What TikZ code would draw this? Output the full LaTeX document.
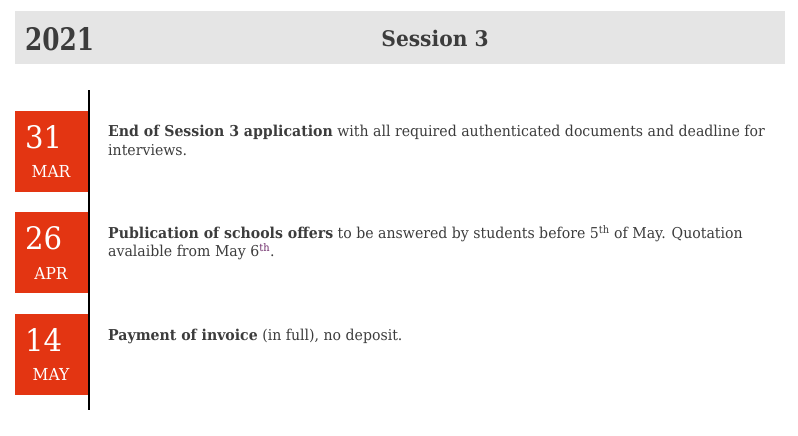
\documentclass[tikz,border=0pt]{standalone}
\usepackage{fontspec}
\setmainfont{DejaVu Serif}[FakeStretch=0.94]
\newfontfamily\yearfont{DejaVu Serif}[FakeStretch=0.8]
\usetikzlibrary{positioning}
\definecolor{barbg}{HTML}{E5E5E5}
\definecolor{datered}{HTML}{E33512}
\definecolor{txt}{HTML}{3C3C3C}
\definecolor{supcol}{HTML}{6E2C6A}
\tikzset{
  datebox/.style={rectangle, fill=datered, draw=none, minimum width=73pt, minimum height=81pt, anchor=north west, inner sep=0pt},
  daynum/.style={text=white, anchor=base west, inner sep=0pt, font=\fontsize{31}{31}\selectfont},
  monthtxt/.style={text=white, anchor=base, inner sep=0pt, font=\fontsize{16.5}{16.5}\selectfont},
  desc/.style={text=txt, anchor=base west, inner sep=0pt, align=left, font=\fontsize{15}{18.4}\selectfont},
  tline/.style={draw=black, line width=2pt},
}
\begin{document}
\begin{tikzpicture}[x=1pt,y=-1pt]
\useasboundingbox (0,0) rectangle (798,436);
% header bar
\node[rectangle, fill=barbg, minimum width=770pt, minimum height=53pt, anchor=north west, inner sep=0pt] (bar) at (15,11) {};
\node[text=txt, anchor=base west, inner sep=0pt, font=\yearfont\bfseries\fontsize{31}{31}\selectfont] (year) at (25,50.5) {2021};
\node[text=txt, anchor=base, inner sep=0pt, font=\bfseries\fontsize{21.5}{21.5}\selectfont] (sess) at (435,46.8) {Session 3};
% timeline
\coordinate (ttop) at (89,90);
\coordinate (tbot) at (89,410);
\draw[tline] (ttop) -- (tbot);
% item 1
\node[datebox] (b1) at (15,110.5) {};
\node[daynum] (n1) at (25,148) {31};
\node[monthtxt] (m1) at (51,177.5) {MAR};
\node[desc] (t1) at (108,155.2) {\textbf{End of Session 3 application} with all required authenticated documents and deadline for\\interviews.};
% item 2
\node[datebox] (b2) at (15,212.2) {};
\node[daynum] (n2) at (25,249.7) {26};
\node[monthtxt] (m2) at (51,279.2) {APR};
\node[desc] (t2) at (108,256.8) {\textbf{Publication of schools offers} to be answered by students before 5\textsuperscript{th} of May. Quotation\\avalaible from May 6\textcolor{supcol}{\textsuperscript{th}}.};
% item 3
\node[datebox] (b3) at (15,313.9) {};
\node[daynum] (n3) at (25,351.4) {14};
\node[monthtxt] (m3) at (51,380.9) {MAY};
\node[desc] (t3) at (108,340.1) {\textbf{Payment of invoice} (in full), no deposit.};
\end{tikzpicture}
\end{document}
